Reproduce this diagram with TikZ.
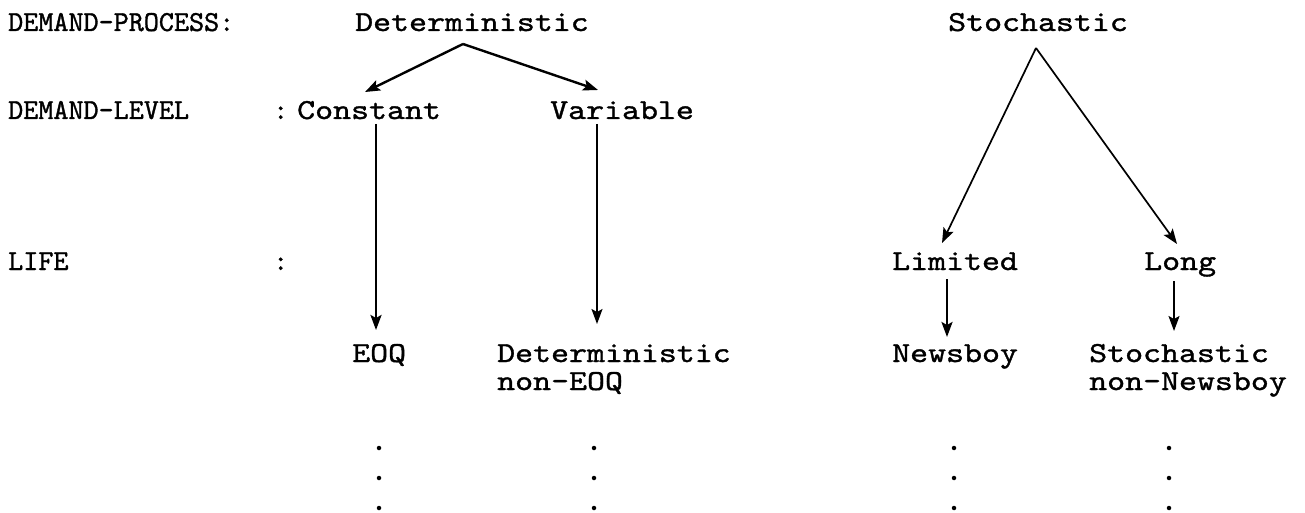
\documentclass[tikz,border=0pt]{standalone}
\usepackage{fontspec}
\newfontfamily\twfont[FakeStretch=1.18,FakeBold=1.2]{lmmono10-regular.otf}
\newfontfamily\lblfont[FakeStretch=0.99,FakeBold=1.2]{lmmono10-regular.otf}
\usetikzlibrary{arrows.meta}
\begin{document}
\begin{tikzpicture}[x=1pt,y=-1pt,
  txt/.style={anchor=base west, inner sep=0pt, font=\twfont\fontsize{29}{28}\selectfont},
  lab/.style={anchor=base west, inner sep=0pt, font=\lblfont\fontsize{29}{28}\selectfont},
  arr/.style={line width=2.4pt, -{Stealth[length=15pt,width=11pt,inset=3pt]}},
  thinarr/.style={line width=1.7pt, -{Stealth[length=15pt,width=11pt,inset=3pt]}},
  dotmark/.style={circle, fill, inner sep=0pt, minimum size=4.5pt}]
\useasboundingbox (0,0) rectangle (1305,513);

% row labels
\node[lab] (lproc) at (8,31) {DEMAND-PROCESS:};
\node[lab] (llev)  at (8,119) {DEMAND-LEVEL};
\node[lab] (clev)  at (273,119) {:};
\node[lab] (llife) at (8,270) {LIFE};
\node[lab] (clife) at (273,270) {:};

% tree nodes
\node[txt] (det) at (355,31) {Deterministic};
\node[txt] (sto) at (948,31) {Stochastic};
\node[txt] (con) at (297,119) {Constant};
\node[txt] (var) at (550,119) {Variable};
\node[txt] (lim) at (892,270) {Limited};
\node[txt] (lng) at (1144,270) {Long};
\node[txt] (eoq) at (352,362) {EOQ};
\node[txt, align=left] (dne) at (497,390) {Deterministic\\non-EOQ};
\node[txt] (nwb) at (892,362) {Newsboy};
\node[txt, align=left] (sne) at (1089,390) {Stochastic\\non-Newsboy};

% connector end points
\coordinate (detA) at (463,44);
\coordinate (conT) at (365,92);
\coordinate (varT) at (598,90);
\coordinate (stoA) at (1036,48);
\coordinate (limT) at (942,243);
\coordinate (lngT) at (1177,244);
\coordinate (conB) at (376,124);
\coordinate (eoqT) at (376,330);
\coordinate (varB) at (597,124);
\coordinate (dneT) at (597,324);
\coordinate (limB) at (947,279);
\coordinate (nwbT) at (947,337);
\coordinate (lngB) at (1174,281);
\coordinate (sneT) at (1174,331);

\draw[arr] (detA) -- (conT);
\draw[arr] (detA) -- (varT);
\draw[thinarr] (stoA) -- (limT);
\draw[thinarr] (stoA) -- (lngT);
\draw[arr] (conB) -- (eoqT);
\draw[thinarr] (varB) -- (dneT);
\draw[arr] (limB) -- (nwbT);
\draw[thinarr] (lngB) -- (sneT);

% continuation dots under each leaf
\foreach \c/\x in {a/379, b/594, c/954, d/1169}
  \foreach \r/\y in {1/448, 2/478, 3/508}
    \node[dotmark] (dot\c\r) at (\x,\y) {};
\end{tikzpicture}
\end{document}
